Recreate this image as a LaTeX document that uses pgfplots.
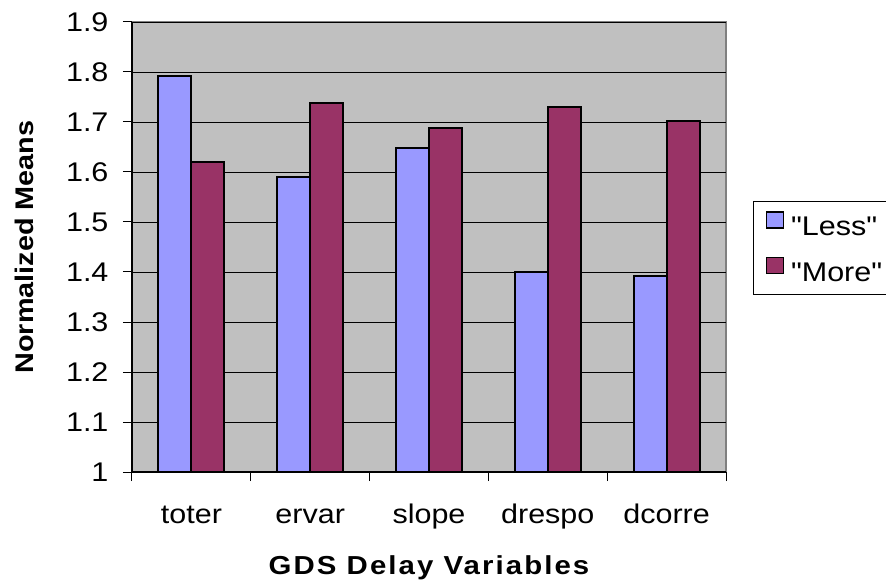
\documentclass[border=0pt]{standalone}
\usepackage{fontspec}
\setmainfont[FakeStretch=1.13]{Liberation Sans}
\newfontfamily\legfont[FakeStretch=1.13]{Liberation Sans}
\usepackage{pgfplots}
\pgfplotsset{compat=1.18}

\definecolor{plotgray}{RGB}{192,192,192}
\definecolor{lessblue}{RGB}{153,153,255}
\definecolor{moremaroon}{RGB}{153,51,102}
\definecolor{bordergray}{RGB}{128,128,128}

\begin{document}
\begin{tikzpicture}
\useasboundingbox (-132pt,-109pt) rectangle (754pt,472pt);
\begin{axis}[
    scale only axis,
    width=594pt, height=450pt,
    xmin=-0.5, xmax=4.5,
    ymin=1, ymax=1.9,
    ytick={1,1.1,1.2,1.3,1.4,1.5,1.6,1.7,1.8,1.9},
    yticklabel style={xshift=-11pt, /pgf/number format/.cd, fixed, precision=1},
    xtick={-0.5,0.5,1.5,2.5,3.5,4.5},
    xticklabels={},
    extra x ticks={0,1,2,3,4},
    extra x tick labels={toter,ervar,slope,drespo,dcorre},
    extra x tick style={major tick length=0pt, grid=none},
    axis x line*=bottom, axis y line*=left,
    x axis line style={-, line width=1.2pt},
    y axis line style={-, line width=1.2pt},
    axis background/.style={fill=plotgray, draw=bordergray, line width=1.5pt},
    ymajorgrids,
    grid style={black, line width=0.8pt},
    tick align=outside,
    major tick length=9pt,
    tick style={black, line width=1pt},
    every tick label/.append style={font=\fontsize{27}{30}\selectfont},
    xticklabel style={yshift=-28pt, text height=20pt, text depth=6pt},
    /pgf/number format/assume math mode=true,
    every axis y label/.style={at={(axis description cs:-0.182,0.5)}, rotate=90, anchor=center,
        font=\fontsize{25.5}{30}\selectfont\bfseries},
    every axis x label/.style={at={(axis description cs:0.5,-0.212)}, anchor=center,
        font=\fontsize{26}{30}\selectfont\bfseries\addfontfeatures{LetterSpace=8}},
    ylabel={Normalized Means},
    xlabel={GDS Delay Variables},
    legend style={at={(axis description cs:1.0455,0.603)}, anchor=north west,
        draw=black, fill=white, line width=1pt,
        font=\legfont\fontsize{27}{30}\selectfont,
        inner xsep=12pt, inner ysep=10pt, row sep=18pt, column sep=5pt},
    legend cell align=left,
]
\addplot[ybar, bar width=33pt, bar shift=-16.5pt, fill=lessblue, draw=black, line width=2pt,
    legend image code/.code={\draw[fill=lessblue, draw=black, line width=1.5pt] (0pt,-1pt) rectangle (17pt,15pt);}]
    coordinates {(0,1.791) (1,1.589) (2,1.647) (3,1.399) (4,1.391)};
\addplot[ybar, bar width=33pt, bar shift=16.5pt, fill=moremaroon, draw=black, line width=2pt,
    legend image code/.code={\draw[fill=moremaroon, draw=black, line width=1.5pt] (0pt,-1pt) rectangle (17pt,15pt);}]
    coordinates {(0,1.619) (1,1.737) (2,1.688) (3,1.729) (4,1.702)};
\legend{"Less","More"}
\end{axis}
\end{tikzpicture}
\end{document}
